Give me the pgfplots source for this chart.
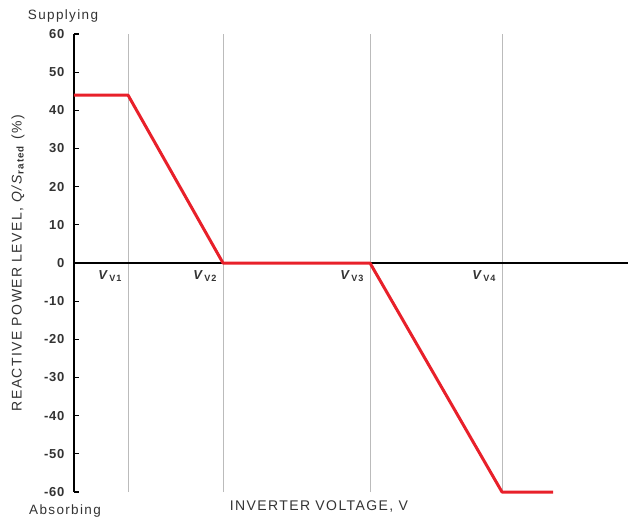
\documentclass[border=0pt]{standalone}
\usepackage{fontspec}
\setmainfont[LetterSpace=10]{Liberation Sans}
\newfontfamily\tickfont[LetterSpace=6]{Liberation Sans}
\usepackage{pgfplots}
\pgfplotsset{compat=1.18}
\definecolor{qred}{HTML}{E8202A}
\definecolor{gridgray}{HTML}{BBBBBB}
\definecolor{txt}{HTML}{333333}
\begin{document}
\begin{tikzpicture}
\begin{axis}[
  scale only axis,
  width=554bp, height=458bp,
  xmin=0, xmax=554, ymin=-60, ymax=60,
  axis y line*=left,
  axis x line*=bottom,
  x axis line style={draw=none},
  y axis line style={black, line width=1.1bp},
  xtick={54,149,296,428},
  xticklabels={},
  xmajorgrids,
  major x tick style={draw=none},
  grid style={gridgray, line width=0.9bp},
  ytick={-60,-50,...,60},
  tick align=inside,
  major y tick style={black, line width=1.1bp},
  major tick length=5bp,
  /pgf/number format/assume math mode=true,
  yticklabel style={font=\fontsize{13bp}{15bp}\selectfont\tickfont\bfseries, text=txt, xshift=-6bp},
  ylabel={REACTIVE POWER LEVEL, \textit{Q/S}\textsubscript{\textbf{rated}} (\%)},
  ylabel style={font=\fontsize{14bp}{16bp}\selectfont, text=txt, at={(rel axis cs:0,0.5)}, anchor=south, yshift=46bp},
  xlabel={INVERTER VOLTAGE, V},
  xlabel style={font=\fontsize{14bp}{16bp}\selectfont, text=txt, at={(rel axis cs:0.442,0)}, anchor=north, yshift=-5bp},
  clip=false,
]
\draw[black, line width=1.1bp] (axis cs:0,0) -- (axis cs:554,0);
\addplot[qred, line width=3bp, line join=round] coordinates {
  (0,44) (54,44) (149,0) (296,0) (428,-60) (479,-60)
};
\node[anchor=south, text=txt, font=\fontsize{13.5bp}{16bp}\selectfont] at (axis cs:-11,60) [yshift=8bp] {Supplying};
\node[anchor=north, text=txt, font=\fontsize{13.5bp}{16bp}\selectfont] at (axis cs:-9,-60) [yshift=-9bp] {Absorbing};
\foreach \xx/\lab in {54/1,149/2,296/3,428/4}{
  \edef\temp{\noexpand\node[anchor=north east, text=txt, font=\noexpand\fontsize{13bp}{15bp}\noexpand\selectfont, inner sep=0pt] at (axis cs:\xx,0) [xshift=-5bp, yshift=-7bp] {\noexpand\textbf{\noexpand\textit{V}}\noexpand\textsubscript{\noexpand\textbf{V\lab}}};}
  \temp
}
\end{axis}
\pgfresetboundingbox
\path (current axis.south west) ++(-74bp,-29bp) coordinate (bbA);
\path (current axis.north east) ++(1bp,34bp) coordinate (bbB);
\useasboundingbox (bbA) rectangle (bbB);
\end{tikzpicture}
\end{document}
